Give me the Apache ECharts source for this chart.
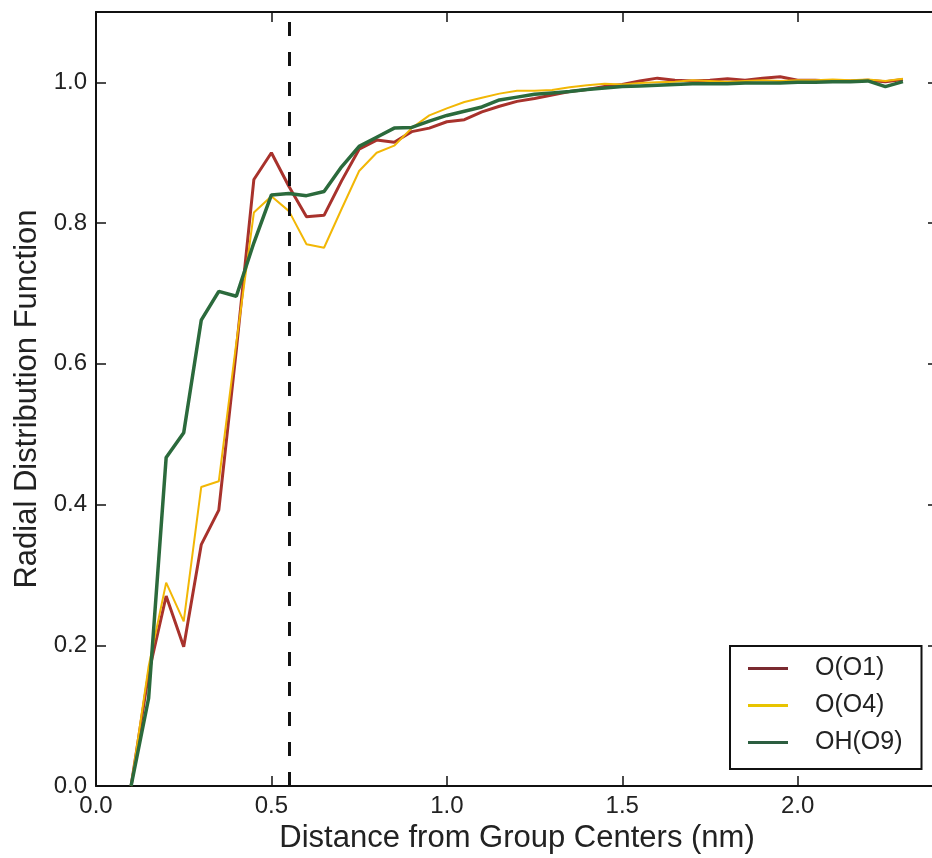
<!DOCTYPE html>
<html>
<head>
<meta charset="utf-8">
<script src="https://cdn.jsdelivr.net/npm/echarts@6/dist/echarts.min.js"></script>
<style>
html,body{margin:0;padding:0;background:#fff;overflow:hidden;}
#chart{width:944px;height:858px;}
</style>
</head>
<body>
<div id="chart"></div>
<script>
const distances = [0.10,0.15,0.20,0.25,0.30,0.35,0.40,0.45,0.50,0.55,
  0.60,0.65,0.70,0.75,0.80,0.85,0.90,0.95,1.00,1.05,
  1.10,1.15,1.20,1.25,1.30,1.35,1.40,1.45,1.50,1.55,
  1.60,1.65,1.70,1.75,1.80,1.85,1.90,1.95,2.00,2.05,
  2.10,2.15,2.20,2.25,2.30];
const rdfO1 = [0.000,0.160,0.270,0.198,0.343,0.392,0.620,0.862,0.900,0.852,
  0.809,0.811,0.860,0.905,0.918,0.915,0.930,0.935,0.944,0.947,
  0.958,0.966,0.973,0.977,0.982,0.987,0.990,0.994,0.997,1.002,
  1.006,1.003,1.002,1.003,1.005,1.003,1.006,1.008,1.003,1.003,
  1.002,1.002,1.003,1.001,1.004];
const rdfO4 = [0.000,0.170,0.289,0.234,0.425,0.433,0.630,0.815,0.838,0.817,
  0.770,0.765,0.820,0.874,0.900,0.910,0.935,0.953,0.963,0.972,
  0.978,0.984,0.988,0.988,0.989,0.993,0.996,0.998,0.997,0.999,
  1.000,1.001,1.003,1.002,1.001,1.002,1.003,1.002,1.003,1.003,
  1.004,1.003,1.004,1.002,1.005];
const rdfO9 = [0.000,0.125,0.467,0.502,0.662,0.703,0.696,0.772,0.840,0.842,
  0.839,0.845,0.880,0.909,0.922,0.935,0.936,0.945,0.953,0.959,
  0.965,0.975,0.979,0.983,0.985,0.987,0.990,0.992,0.994,0.995,
  0.996,0.997,0.998,0.998,0.998,0.999,0.999,0.999,1.000,1.000,
  1.001,1.001,1.002,0.994,1.001];
const seriesNames = ['O(O1)','O(O4)','OH(O9)'];
const cutoffX = 0.55;
const xTicks = {min:0, max:2.4, interval:0.5};
const yTicks = {min:0, max:1.1, interval:0.2};
const xTitle = 'Distance from Group Centers (nm)';
const yTitle = 'Radial Distribution Function';

const FONT = 'Liberation Sans, Arial, Helvetica, sans-serif';
const zip = (ys) => distances.map((x,i)=>[x, ys[i]]);
const fmt = v => v.toFixed(1);

const chart = echarts.init(document.getElementById('chart'), null, {renderer:'canvas'});
const axisLine = {show:true, onZero:false, lineStyle:{color:'#111', width:2}};
const tickIn = {show:true, inside:true, length:10, lineStyle:{color:'#111', width:1.5}};
chart.setOption({
  animation:false,
  backgroundColor:'#fff',
  grid:{left:96, top:12, width:842, height:774, outerBoundsMode:'none'},
  legend:{
    data:seriesNames,
    orient:'vertical',
    left:730, top:646,
    padding:[10,19,14,18],
    borderColor:'#111', borderWidth:2,
    backgroundColor:'#fff',
    icon:'rect',
    itemWidth:40, itemHeight:3,
    itemGap:12,
    textStyle:{fontFamily:FONT, fontSize:25, color:'#222', padding:[0,0,0,22]}
  },
  xAxis:[{
    type:'value', min:xTicks.min, max:xTicks.max, interval:xTicks.interval,
    position:'bottom',
    name:xTitle, nameLocation:'middle', nameGap:32,
    nameTextStyle:{fontFamily:FONT, fontSize:31, color:'#222'},
    axisLine:axisLine, axisTick:tickIn,
    axisLabel:{fontFamily:FONT, fontSize:24, color:'#222', margin:8, formatter:fmt, showMaxLabel:false},
    splitLine:{show:false}
  },{
    type:'value', min:xTicks.min, max:xTicks.max, interval:xTicks.interval,
    position:'top',
    axisLine:axisLine, axisTick:tickIn,
    axisLabel:{show:false}, splitLine:{show:false}
  }],
  yAxis:[{
    type:'value', min:yTicks.min, max:yTicks.max, interval:yTicks.interval,
    position:'left',
    name:yTitle, nameLocation:'middle', nameGap:53,
    nameTextStyle:{fontFamily:FONT, fontSize:31, color:'#222'},
    axisLine:axisLine, axisTick:tickIn,
    axisLabel:{fontFamily:FONT, fontSize:24, color:'#222', margin:9, formatter:fmt, showMaxLabel:false},
    splitLine:{show:false}
  },{
    type:'value', min:yTicks.min, max:yTicks.max, interval:yTicks.interval,
    position:'right',
    axisLine:axisLine, axisTick:tickIn,
    axisLabel:{show:false}, splitLine:{show:false}
  }],
  series:[
    {name:seriesNames[0], type:'line', data:zip(rdfO1), symbol:'none',
     lineStyle:{color:'#a8322c', width:3}, itemStyle:{color:'#7a2a30'},
     markLine:{silent:true, symbol:'none', label:{show:false},
       lineStyle:{color:'#111', width:3, type:[14,16]},
       data:[[{coord:[cutoffX, yTicks.min]},{coord:[cutoffX, yTicks.max]}]]}},
    {name:seriesNames[1], type:'line', data:zip(rdfO4), symbol:'none',
     lineStyle:{color:'#f2b705', width:2}, itemStyle:{color:'#e8c400'}},
    {name:seriesNames[2], type:'line', data:zip(rdfO9), symbol:'none',
     lineStyle:{color:'#2b6a3c', width:3.5}, itemStyle:{color:'#2c5e40'}}
  ]
});
</script>
</body>
</html>
